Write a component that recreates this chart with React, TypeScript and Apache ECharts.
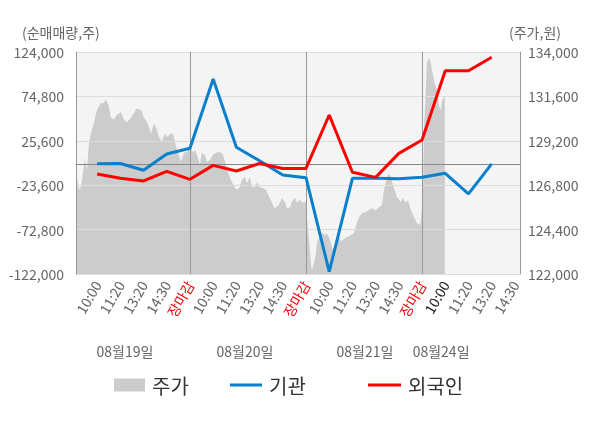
import React, { useEffect, useRef } from 'react';
import * as echarts from 'echarts';

const timeLabels = [
  '10:00', '11:20', '13:20', '14:30', '장마감',
  '10:00', '11:20', '13:20', '14:30', '장마감',
  '10:00', '11:20', '13:20', '14:30', '장마감',
  '10:00', '11:20', '13:20', '14:30',
];
const currentLabelIndex = 15;
const dateLabels = ['08월19일', '08월20일', '08월21일', '08월24일'];
const datePositions = [2.2, 7.37, 12.54, 15.82];
const leftAxisName = '(순매매량,주)';
const rightAxisName = '(주가,원)';

const institution = [300, 500, -7100, 11000, 17300, 94100, 18400, 3500, -12300, -15300, -119400, -16000, -16000, -16500, -14900, -10400, -33300, 0];
const foreign = [-11200, -16000, -18900, -8200, -17100, -1600, -7900, 500, -5000, -5000, 54200, -9300, -14900, 11700, 26500, 103300, 103300, 118100];

const leftTicks = [-122000, -72800, -23600, 25600, 74800, 124000];
const rightTicks = [122000, 124400, 126800, 129200, 131600, 134000];

const pricePos = [
  0.09, 0.13, 0.22, 0.30, 0.39, 0.47, 0.56, 0.65, 0.73, 0.86, 0.99, 1.16, 1.29, 1.38, 1.51, 1.59, 1.72, 1.85, 2.03, 2.15,
  2.28, 2.46, 2.59, 2.71, 2.89, 3.02, 3.15, 3.23, 3.32, 3.45, 3.58, 3.66, 3.79, 3.92, 4.01, 4.18, 4.27, 4.39, 4.52, 4.61,
  4.74, 4.87, 5.00,
  5.13, 5.21, 5.30, 5.43, 5.51, 5.64, 5.73, 5.86, 5.99, 6.12, 6.29, 6.42, 6.51, 6.64, 6.76, 6.94, 7.02, 7.15, 7.24, 7.37,
  7.45, 7.58, 7.67, 7.80, 7.88, 8.01, 8.14, 8.27, 8.44, 8.57, 8.66, 8.83, 8.96, 9.09, 9.18, 9.31, 9.39, 9.52, 9.61, 9.74,
  9.87, 10.00,
  10.04, 10.13, 10.21, 10.25, 10.34, 10.43, 10.47, 10.60, 10.69, 10.81, 10.90, 11.03, 11.16, 11.29, 11.37, 11.50, 11.59,
  11.76, 11.93, 12.06, 12.19, 12.28, 12.41, 12.58, 12.71, 12.84, 13.01, 13.14, 13.27, 13.36, 13.49, 13.57, 13.66, 13.79,
  13.92, 14.09, 14.17, 14.30, 14.39, 14.52, 14.65, 14.78, 14.91, 14.95,
  15.04, 15.08, 15.17, 15.21, 15.30, 15.38, 15.42, 15.55, 15.64, 15.73, 15.81, 15.86, 15.94, 15.98,
];
const priceVal = [
  128050, 127250, 126550, 126700, 127450, 128250, 127600, 129100, 129600, 130150, 130850, 131250, 131250, 131450, 131050, 130450, 130350, 130600, 130750, 130350,
  130200, 130450, 130700, 130950, 130850, 130450, 130200, 129950, 129600, 130150, 129800, 129400, 129150, 129600, 129400, 129600, 129600, 128950, 128450, 128050,
  128550, 128600, 128950,
  128550, 128700, 128450, 127900, 128550, 128450, 128050, 128150, 128450, 128550, 128600, 128450, 128050, 127500, 127100, 126650, 126550, 126700, 127100, 127250,
  126900, 127250, 126700, 126700, 126950, 126700, 126650, 126550, 126100, 125750, 125550, 125750, 126100, 125900, 125550, 125600, 125900, 126150, 125850, 126000,
  125850, 125900,
  125050, 123850, 122600, 122200, 122600, 123150, 123700, 124000, 124250, 124100, 124200, 123850, 123300, 123700, 124200, 123750, 123850,
  124000, 124100, 124200, 124750, 125050, 125300, 125350, 125450, 125550, 125450, 125600, 125750, 126550, 127250, 127450, 127200, 126650,
  126150, 125900, 126100, 125850, 126000, 125450, 125100, 124750, 124650, 124900,
  126400, 129600, 132300, 133400, 133700, 133400, 133050, 132300, 131950, 131050, 130850, 131400, 131550, 131550,
];

const X_MIN = 0.09;
const X_MAX = 19.22;
const FONT = 'Noto Sans CJK KR';

export default function App() {
  const ref = useRef<HTMLDivElement>(null);

  useEffect(() => {
    if (!ref.current) return;
    const chart = echarts.init(ref.current, null, { renderer: 'svg' });
    const legendText = { fontSize: 20, color: '#333', fontFamily: FONT, padding: [0, 0, 0, 2] };
    const legendBase = { top: 375, padding: 0, textStyle: legendText };
    const nameStyle = { color: '#666', fontSize: 14, fontWeight: 'normal', fontFamily: FONT };
    const option = {
      animation: false,
      textStyle: { fontFamily: FONT },
      title: [
        { text: leftAxisName, left: 22, top: 25, padding: 0, textStyle: nameStyle },
        { text: rightAxisName, left: 509, top: 25, padding: 0, textStyle: nameStyle },
      ],
      grid: {
        left: 76, right: 80, top: 52, bottom: 154,
        show: true, backgroundColor: '#f4f4f4', borderWidth: 0,
      },
      legend: [
        { ...legendBase, data: [{ name: '주가', icon: 'rect' }], left: 114, itemWidth: 31, itemHeight: 13 },
        { ...legendBase, data: [{ name: '기관', icon: 'rect' }], left: 230, itemWidth: 32, itemHeight: 3 },
        { ...legendBase, data: [{ name: '외국인', icon: 'rect' }], left: 368, itemWidth: 33, itemHeight: 3 },
      ],
      xAxis: [
        {
          type: 'value', min: X_MIN, max: X_MAX, position: 'bottom', z: 3,
          axisLine: { show: true, lineStyle: { color: '#999' } },
          axisTick: { show: true, customValues: [X_MIN, 5, 10, 15, X_MAX], length: 6, lineStyle: { color: '#999' } },
          splitLine: { show: true, lineStyle: { color: '#999', width: 1 } },
          axisLabel: {
            customValues: timeLabels.map((_, i) => i + 1),
            rotate: 60,
            fontSize: 14,
            color: '#666',
            fontFamily: FONT,
            formatter: (v: number) => {
              const idx = Math.round(v) - 1;
              const t = timeLabels[idx] ?? '';
              if (t === '장마감') return '{r|' + t + '}';
              if (idx === currentLabelIndex) return '{d|' + t + '}';
              return t;
            },
            rich: {
              r: { color: '#ff0000', fontSize: 14, fontFamily: FONT },
              d: { color: '#222', fontSize: 14, fontFamily: FONT },
            },
          },
        },
        {
          type: 'value', min: X_MIN, max: X_MAX, position: 'bottom', offset: 0,
          axisLine: { show: false }, axisTick: { show: false }, splitLine: { show: false },
          axisLabel: {
            customValues: datePositions,
            margin: 70,
            fontSize: 14,
            color: '#666',
            fontFamily: FONT,
            formatter: (v: number) => {
              const i = datePositions.indexOf(v);
              return i >= 0 ? dateLabels[i] : '';
            },
          },
        },
      ],
      yAxis: [
        {
          type: 'value', min: -122000, max: 124000, position: 'left', z: 3,
          axisLine: { show: true, lineStyle: { color: '#999' } },
          axisTick: { show: false, customValues: leftTicks },
          axisLabel: {
            customValues: leftTicks, margin: 12, fontSize: 14, color: '#666', fontFamily: FONT,
            formatter: (v: number) => v.toLocaleString('en-US'),
          },
          splitLine: { show: true, lineStyle: { color: '#dcdcdc', width: 1 } },
        },
        {
          type: 'value', min: 122000, max: 134000, position: 'right', z: 3,
          axisLine: { show: true, lineStyle: { color: '#999' } },
          axisTick: { show: false, customValues: rightTicks },
          axisLabel: {
            customValues: rightTicks, margin: 8, fontSize: 14, color: '#666', fontFamily: FONT,
            formatter: (v: number) => v.toLocaleString('en-US'),
          },
          splitLine: { show: false },
        },
      ],
      series: [
        {
          name: '주가', type: 'line', xAxisIndex: 0, yAxisIndex: 1, z: 2,
          data: pricePos.map((p, i) => [p, priceVal[i]]),
          symbol: 'none', silent: true,
          lineStyle: { width: 0, color: '#cccccc' },
          itemStyle: { color: '#cccccc' },
          areaStyle: { color: '#cccccc', opacity: 1, origin: 'start' },
        },
        {
          name: '기관', type: 'line', xAxisIndex: 0, yAxisIndex: 0, z: 5,
          data: institution.map((v, i) => [i + 1, v]),
          symbol: 'none',
          lineStyle: { width: 3, color: '#0a7fcc' },
          itemStyle: { color: '#0a7fcc' },
          markLine: {
            silent: true, symbol: 'none', label: { show: false },
            lineStyle: { color: '#888', width: 1, type: 'solid' },
            data: [{ yAxis: 0 }],
          },
        },
        {
          name: '외국인', type: 'line', xAxisIndex: 0, yAxisIndex: 0, z: 6,
          data: foreign.map((v, i) => [i + 1, v]),
          symbol: 'none',
          lineStyle: { width: 3, color: '#ff0000' },
          itemStyle: { color: '#ff0000' },
        },
      ],
    };
    chart.setOption(option as any);
    return () => chart.dispose();
  }, []);

  return <div ref={ref} style={{ position: 'fixed', left: 0, top: 0, width: 600, height: 428 }} />;
}
